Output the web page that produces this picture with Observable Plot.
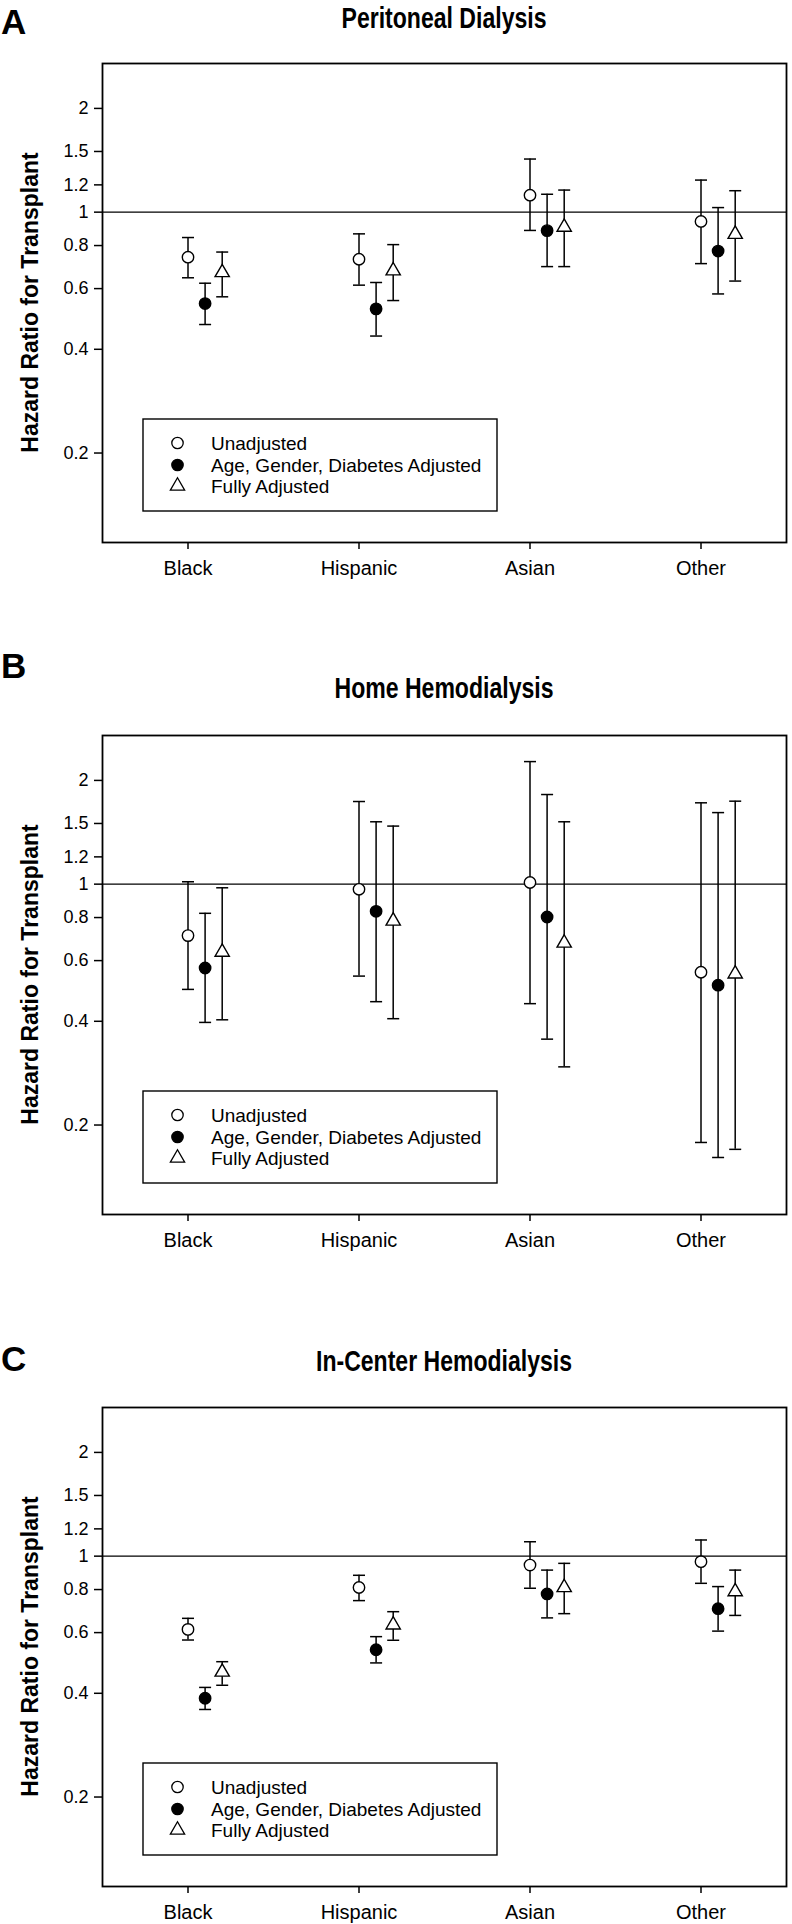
<!DOCTYPE html>
<html><head><meta charset="utf-8">
<script src="https://cdn.jsdelivr.net/npm/d3@7"></script>
<script src="https://cdn.jsdelivr.net/npm/@observablehq/plot@0.6"></script>
<style>
body{margin:0;background:#fff;font-family:"Liberation Sans",Arial,sans-serif;}
#page{position:relative;width:792px;height:1924px;overflow:hidden;background:#fff;}
#page > *{position:absolute;left:0;}
</style></head><body><div id="page"></div>
<script>
// ---------- data ----------
const categories = ["Black", "Hispanic", "Asian", "Other"];
const series = ["Unadjusted", "Age, Gender, Diabetes Adjusted", "Fully Adjusted"];
const panelTitles = ["Peritoneal Dialysis", "Home Hemodialysis", "In-Center Hemodialysis"];
const panelLetters = ["A", "B", "C"];
const yTickValues = [0.2, 0.4, 0.6, 0.8, 1, 1.2, 1.5, 2];
const yLabel = "Hazard Ratio for Transplant";

// Peritoneal dialysis: rows = series, columns = categories
const pdHR    = [[0.74, 0.73, 1.12, 0.94], [0.543, 0.524, 0.884, 0.771], [0.668, 0.676, 0.905, 0.863]];
const pdLower = [[0.645, 0.614, 0.885, 0.709], [0.472, 0.437, 0.695, 0.579], [0.568, 0.554, 0.695, 0.631]];
const pdUpper = [[0.844, 0.865, 1.426, 1.239], [0.622, 0.625, 1.127, 1.031], [0.766, 0.805, 1.159, 1.154]];

// Home hemodialysis
const hhdHR    = [[0.709, 0.966, 1.011, 0.555], [0.571, 0.834, 0.803, 0.509], [0.635, 0.782, 0.675, 0.549]];
const hhdLower = [[0.495, 0.541, 0.450, 0.178], [0.397, 0.456, 0.355, 0.161], [0.404, 0.407, 0.295, 0.170]];
const hhdUpper = [[1.016, 1.737, 2.268, 1.722], [0.823, 1.517, 1.82, 1.613], [0.976, 1.474, 1.517, 1.741]];

// In-center hemodialysis
const ichdHR    = [[0.613, 0.811, 0.942, 0.964], [0.387, 0.535, 0.777, 0.704], [0.461, 0.632, 0.811, 0.789]];
const ichdLower = [[0.571, 0.743, 0.807, 0.834], [0.359, 0.490, 0.662, 0.606], [0.422, 0.570, 0.681, 0.673]];
const ichdUpper = [[0.660, 0.880, 1.101, 1.114], [0.416, 0.584, 0.911, 0.816], [0.494, 0.690, 0.953, 0.911]];

// ---------- layout / style ----------
const W = 792, FRAME_L = 102, FRAME_R = 786, FRAME_H = 479, MT = 10, MB = 42;
const frameTops = [63, 735, 1407];
const titleBaselines = [28, 698, 1371];
const titleWidths = [205, 219, 256];
const letterBaselines = [34, 678, 1371];
const seriesOffset = [0, 0.1, 0.2];
const seriesSymbol = ["circle", "circle", "triangle"];
const seriesFill = ["white", "black", "white"];
const seriesR = [5.7, 5.7, 5.3];
const FONT = '"Liberation Sans", Arial, sans-serif';
const NARROW = '"Liberation Sans Narrow", "Arial Narrow", "Liberation Sans", sans-serif';

const capSymbol = {draw(ctx, size) { const w = Math.sqrt(size / Math.PI); ctx.moveTo(-w, 0); ctx.lineTo(w, 0); }};

function makePanel(est, lo, hi) {
  const rows = [];
  series.forEach((s, si) => categories.forEach((c, ci) =>
    rows.push({si, ci, est: est[si][ci], lo: lo[si][ci], hi: hi[si][ci]})));
  const X = d => d.ci + 1 + seriesOffset[d.si];
  return Plot.plot({
    width: W, height: MT + FRAME_H + MB,
    marginTop: MT, marginBottom: MB, marginLeft: FRAME_L, marginRight: W - FRAME_R,
    style: {background: "transparent", fontFamily: FONT, color: "black", overflow: "visible"},
    x: {type: "linear", domain: [0.5, 4.5]},
    y: {type: "log", domain: [0.11, 2.7]},
    marks: [
      Plot.ruleY([1], {stroke: "black", strokeWidth: 1.4}),
      Plot.ruleX(rows, {x: X, y1: "lo", y2: "hi", stroke: "black", strokeWidth: 1.5}),
      Plot.dot(rows, {x: X, y: "hi", symbol: capSymbol, r: 6, stroke: "black", strokeWidth: 1.5, fill: "none"}),
      Plot.dot(rows, {x: X, y: "lo", symbol: capSymbol, r: 6, stroke: "black", strokeWidth: 1.5, fill: "none"}),
      ...series.map((s, si) => Plot.dot(rows.filter(d => d.si === si), {
        x: X, y: "est", symbol: seriesSymbol[si], r: seriesR[si],
        fill: seriesFill[si], stroke: "black", strokeWidth: 1.4
      })),
      Plot.frame({stroke: "black", strokeWidth: 1.8}),
      Plot.axisX({ticks: [1, 2, 3, 4], tickFormat: v => categories[v - 1], tickSize: 7, tickPadding: 11,
                  fontSize: 20, fontFamily: NARROW, strokeWidth: 1.5, label: null}),
      Plot.axisY({ticks: yTickValues, tickFormat: v => String(v), tickSize: 8, tickPadding: 6,
                  fontSize: 18, fontFamily: NARROW, strokeWidth: 1.5, label: null})
    ]
  });
}

const page = document.getElementById("page");
const panels = [[pdHR, pdLower, pdUpper], [hhdHR, hhdLower, hhdUpper], [ichdHR, ichdLower, ichdUpper]];
panels.forEach((p, k) => {
  const chart = makePanel(...p);
  chart.style.top = (frameTops[k] - MT) + "px";
  page.appendChild(chart);
});

// ---------- titles, panel letters, axis titles, legends ----------
const svg = d3.select(page).append("svg")
  .attr("width", W).attr("height", 1924)
  .style("top", "0px").style("pointer-events", "none")
  .style("font-family", FONT);

const cx = (FRAME_L + FRAME_R) / 2;
panelTitles.forEach((t, k) => {
  svg.append("text").attr("x", cx).attr("y", titleBaselines[k]).attr("text-anchor", "middle")
    .attr("font-family", NARROW).attr("font-size", 30).attr("font-weight", "bold").attr("fill", "black")
    .attr("textLength", titleWidths[k]).attr("lengthAdjust", "spacingAndGlyphs").text(t);
  svg.append("text").attr("x", 1).attr("y", letterBaselines[k])
    .attr("font-size", 35).attr("font-weight", "bold").attr("fill", "black").text(panelLetters[k]);
  const midY = frameTops[k] + FRAME_H / 2;
  svg.append("text").attr("transform", `translate(30,${midY}) rotate(-90)`)
    .attr("text-anchor", "middle").attr("dy", "0.35em")
    .attr("font-size", 23).attr("font-weight", "bold").attr("fill", "black").text(yLabel);
  const top = frameTops[k] + 356;
  const g = svg.append("g");
  g.append("rect").attr("x", 143).attr("y", top).attr("width", 354).attr("height", 92)
    .attr("fill", "white").attr("stroke", "black").attr("stroke-width", 1.4);
  const rowOffsets = [24, 46, 67];
  series.forEach((s, si) => {
    const cy = top + rowOffsets[si];
    const type = seriesSymbol[si] === "triangle" ? d3.symbolTriangle : d3.symbolCircle;
    g.append("path")
      .attr("d", d3.symbol(type, Math.PI * seriesR[si] * seriesR[si])())
      .attr("transform", `translate(177.5,${cy})`)
      .attr("fill", seriesFill[si]).attr("stroke", "black").attr("stroke-width", 1.3);
    g.append("text").attr("x", 211).attr("y", cy).attr("dy", "0.36em")
      .attr("font-size", 19).attr("fill", "black").text(s);
  });
});
</script></body></html>
